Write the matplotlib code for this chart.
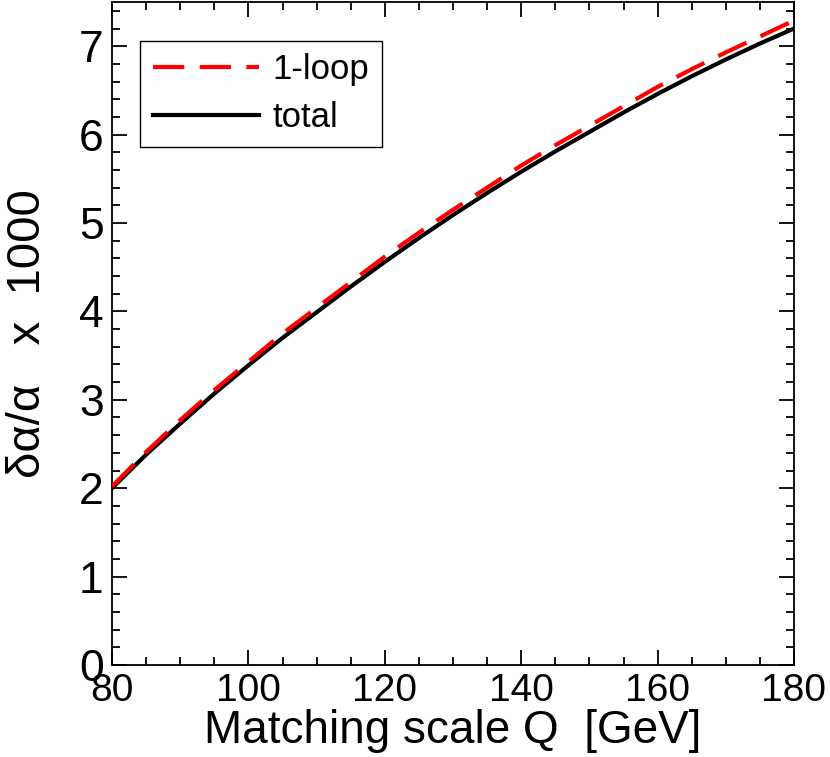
import matplotlib
matplotlib.use("Agg")
import matplotlib.pyplot as plt
from matplotlib.ticker import MultipleLocator

# Data
Q = [80, 85, 90, 95, 100, 105, 110, 115, 120, 125, 130,
     135, 140, 145, 150, 155, 160, 165, 170, 175, 180]
total = [2.00, 2.38, 2.73, 3.07, 3.39, 3.70, 3.99, 4.28, 4.56, 4.83, 5.09,
         5.34, 5.58, 5.81, 6.03, 6.25, 6.46, 6.66, 6.85, 7.03, 7.20]
one_loop = [2.02, 2.41, 2.77, 3.11, 3.43, 3.75, 4.04, 4.33, 4.62, 4.89, 5.15,
            5.40, 5.65, 5.88, 6.10, 6.32, 6.54, 6.74, 6.93, 7.11, 7.29]

xticks = [80, 100, 120, 140, 160, 180]
yticks = [0, 1, 2, 3, 4, 5, 6, 7]

plt.rcParams['font.family'] = ['Liberation Sans', 'DejaVu Sans']

W, H = 830, 757
fig = plt.figure(figsize=(W / 100, H / 100), dpi=100)
ax = fig.add_axes([112 / W, 1 - 665 / H, (794 - 112) / W, (665 - 2) / H])

ax.plot(Q, one_loop, color='#ff0000', lw=3, dashes=(7.5, 3.7), label='1-loop', zorder=3)
ax.plot(Q, total, color='black', lw=3, label='total', zorder=2)

ax.set_xlim(80, 180)
ax.set_ylim(0, 7.5)
ax.set_xticks(xticks)
ax.set_yticks(yticks)
ax.xaxis.set_minor_locator(MultipleLocator(5))
ax.yaxis.set_minor_locator(MultipleLocator(0.2))
ax.tick_params(which='both', direction='in', top=True, right=True, width=1.3)
ax.tick_params(which='major', length=11)
ax.tick_params(which='minor', length=6)
ax.tick_params(axis='x', pad=6, labelsize=28)
ax.tick_params(axis='y', pad=6, labelsize=32)
for s in ax.spines.values():
    s.set_linewidth(1.3)

ax.set_xlabel('Matching scale Q  [GeV]', fontsize=33, labelpad=0)
ax.set_ylabel('δα/α   x  1000', fontsize=34)
ax.yaxis.set_label_coords((50 - 112) / (794 - 112), 0.5)

leg = ax.legend(loc='upper left', bbox_to_anchor=(140 / W, 1 - 40.7 / H),
                bbox_transform=fig.transFigure, fontsize=25, frameon=True,
                fancybox=False, framealpha=1, edgecolor='black',
                handlelength=3.08, handletextpad=0.37, borderpad=0.36,
                labelspacing=0.44, borderaxespad=0)
leg.get_frame().set_linewidth(1.0)

fig.savefig('out.png', dpi=100)
